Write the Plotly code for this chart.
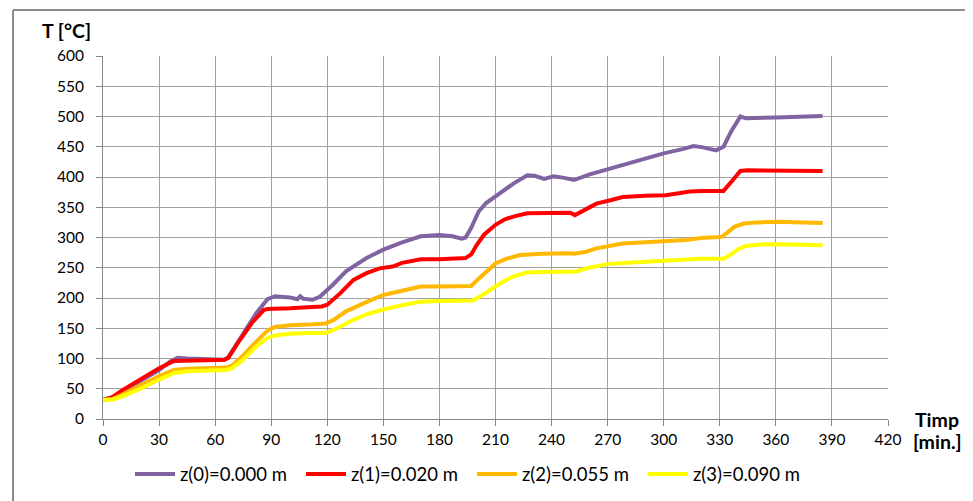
import plotly.graph_objects as go

# ---- data ----
t0 = [0, 5, 10, 20, 30, 36, 40, 45, 55, 65, 67, 75, 82, 88, 92, 100, 104, 105.5, 107, 112, 116, 123, 130, 141, 150, 160, 170, 180, 187, 192, 194, 197, 201, 205, 210, 220, 227, 231, 236, 241, 246, 252, 260, 270, 285, 300, 310, 316, 321, 325, 328, 332, 336, 341, 344, 360, 385]
T0 = [32, 36, 45, 63, 81, 95, 101, 100, 99, 98, 102, 140, 175, 198, 203, 201, 198, 203, 199, 197, 202, 222, 244, 266, 280, 292, 302, 304, 302, 298, 300, 316, 343, 357, 368, 390, 403, 402, 397, 401, 399, 395, 404, 413, 426, 439, 446, 451, 449, 446, 444, 450, 475, 500, 497, 498.5, 501]

t1 = [0, 5, 10, 20, 30, 38, 45, 55, 65, 67, 72, 80, 86, 88, 100, 110, 117, 120, 127, 134, 141, 148, 155, 160, 170, 180, 190, 194, 197, 200, 204, 210, 215, 220, 227, 235, 245, 250, 252.5, 257, 264, 272, 278, 290, 301, 308, 314, 320, 330, 332, 337, 341, 345, 360, 375, 385]
T1 = [31, 36, 47, 66, 84, 96, 97, 97, 98, 101, 125, 160, 180, 182, 183, 184, 186, 189, 208, 230, 241, 249, 252, 258, 264, 264, 265, 266, 272, 288, 305, 321, 330, 335, 340, 340, 341, 341, 337, 345, 356, 362, 367, 369, 370, 373, 376, 377, 376, 377, 395, 410, 411, 411, 410, 410]

t2 = [0, 5, 10, 20, 30, 38, 45, 55, 66, 69, 75, 82, 88, 92, 100, 110, 119, 123, 130, 140, 150, 160, 170, 180, 190, 197, 201, 205, 210, 216, 223, 235, 245, 250, 252, 258, 264, 272, 278, 290, 302, 312, 320, 331, 334, 338, 343, 350, 360, 375, 385]
T2 = [31, 33, 40, 56, 71, 81, 83, 84, 85, 88, 105, 128, 146, 152, 155, 156, 158, 163, 178, 192, 205, 212, 219, 219, 219, 220, 232, 243, 257, 265, 271, 273, 274, 274, 273, 276, 282, 287, 290, 292, 294, 296, 299, 301, 308, 318, 323, 325, 326, 325, 324]

t3 = [0, 5, 10, 20, 30, 38, 45, 55, 66, 69, 75, 82, 88, 92, 100, 110, 119, 124, 134, 142, 150, 160, 170, 180, 190, 198, 203, 210, 215, 220, 227, 235, 245, 253, 260, 270, 278, 290, 302, 312, 320, 332, 336, 340, 344, 350, 360, 375, 385]
T3 = [32, 32, 37, 50, 65, 76, 79, 80, 81, 84, 98, 120, 134, 138, 141, 142, 142, 148, 164, 174, 181, 188, 194, 195, 195, 196, 205, 219, 229, 236, 242, 243, 244, 244, 250, 256, 258, 260, 261, 263, 265, 265, 272, 281, 286, 288, 289, 288, 287]

names = ["z(0)=0.000 m", "z(1)=0.020 m", "z(2)=0.055 m", "z(3)=0.090 m"]
colors = ["#8064A2", "#FF0000", "#FFB800", "#FFFF00"]

x_ticks = list(range(0, 421, 30))
y_ticks = list(range(0, 601, 50))

FONT = "Lato, Calibri, sans-serif"

fig = go.Figure()
for t, T, n, c in zip([t0, t1, t2, t3], [T0, T1, T2, T3], names, colors):
    fig.add_trace(go.Scatter(x=t, y=T, mode="lines", name=n,
                             line=dict(color=c, width=4)))

W, H = 973, 501
OFF = 8  # page body margin
# plot area in page pixels
PL, PR, PT, PB = 103, 888, 56, 419.5
L = PL - OFF
TOP = PT - OFF
R = W - (PR - OFF)
B = H - (PB - OFF)

def px(x):
    return (x - PL) / (PR - PL)

def py(y):
    return (PB - y) / (PB - PT)

fig.update_layout(
    width=W, height=H,
    margin=dict(l=L, r=R, t=TOP, b=B, autoexpand=False),
    paper_bgcolor="white", plot_bgcolor="white",
    font=dict(family=FONT, size=15.5, color="#000000"),
    showlegend=True,
    legend=dict(orientation="h", x=px(130), xanchor="left", y=py(475), yanchor="middle",
                font=dict(size=18.5), entrywidth=116, itemwidth=40,
                bgcolor="rgba(0,0,0,0)"),
    xaxis=dict(range=[0, 420], tickvals=x_ticks, ticktext=[str(v) for v in x_ticks],
               showgrid=True, gridcolor="#A0A0A0", gridwidth=1,
               showline=True, linecolor="#868686", linewidth=1,
               ticks="outside", ticklen=6, tickcolor="#868686",
               zeroline=False, fixedrange=True),
    yaxis=dict(range=[0, 600], tickvals=y_ticks, ticktext=[str(v) for v in y_ticks],
               showgrid=True, gridcolor="#A0A0A0", gridwidth=1,
               showline=True, linecolor="#868686", linewidth=1,
               ticks="outside", ticklen=6, tickcolor="#868686",
               ticklabelstandoff=9,
               zeroline=False, fixedrange=True),
    annotations=[
        dict(text="<b>T [°C]</b>", x=px(66), y=py(30), xref="paper", yref="paper",
             showarrow=False, font=dict(size=19.5), xanchor="center", yanchor="middle"),
        dict(text="<b>Timp</b>", x=px(937), y=py(420), xref="paper", yref="paper",
             showarrow=False, font=dict(size=19.5), xanchor="center", yanchor="middle"),
        dict(text="<b>[min.]</b>", x=px(937), y=py(442), xref="paper", yref="paper",
             showarrow=False, font=dict(size=19.5), xanchor="center", yanchor="middle"),
    ],
    shapes=[
        dict(type="line", xref="paper", yref="paper", x0=px(13), x1=px(13),
             y0=py(10), y1=py(520), line=dict(color="#8C8C8C", width=2)),
        dict(type="line", xref="paper", yref="paper", x0=px(13), x1=px(990),
             y0=py(10), y1=py(10), line=dict(color="#8C8C8C", width=2)),
    ],
)

fig.write_html("out.html")
